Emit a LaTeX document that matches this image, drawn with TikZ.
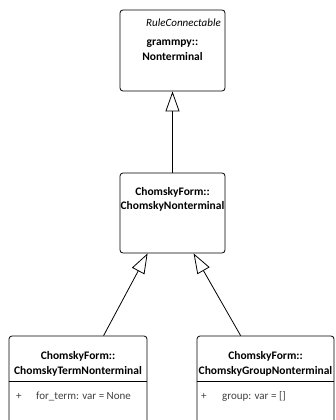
\documentclass[tikz,border=0pt]{standalone}
\usepackage{fontspec}
\setmainfont{Carlito}
\usetikzlibrary{arrows.meta,calc}
\begin{document}
\begin{tikzpicture}[x=1pt,y=-1pt,
  umlbox/.style={draw=black, fill=white, rounded corners=3pt, line width=0.8pt, inner sep=0pt},
  classname/.style={font=\fontsize{11.5}{14.5}\selectfont\bfseries, align=center, inner sep=0pt},
  stereo/.style={font=\fontsize{11}{13}\selectfont\itshape, inner sep=0pt},
  attr/.style={font=\fontsize{11}{13}\selectfont, text=black!75, inner sep=0pt, anchor=west},
  inherit/.style={draw=black, line width=0.8pt, -{Triangle[open, length=20pt, width=14pt, line width=0.8pt]}}
]
\useasboundingbox (0,0) rectangle (335,420);
\clip (0,0) rectangle (335,420);

% base class
\node[umlbox, minimum width=105pt, minimum height=81pt] (nt) at (172.5,50.5) {};
\node[stereo, anchor=east] (ntst) at (221,23) {RuleConnectable};
\node[classname] (ntname) at (172.5,50) {grammpy::\\Nonterminal};

% intermediate class
\node[umlbox, minimum width=105pt, minimum height=80pt] (cn) at (172.5,213) {};
\node[classname] (cnname) at (172.5,199.5) {ChomskyForm::\\ChomskyNonterminal};

% leaf classes
\node[umlbox, minimum width=138pt, minimum height=110pt] (tn) at (78,391) {};
\node[classname] (tnname) at (78,364) {ChomskyForm::\\ChomskyTermNonterminal};
\draw[line width=0.8pt] ($(tn.north west)+(0,46)$) -- ($(tn.north east)+(0,46)$);
\node[attr] (tnplus) at (16,396) {+};
\node[attr] (tnattr) at (36,396) {for\_term: var = None};

\node[umlbox, minimum width=137pt, minimum height=110pt] (gn) at (265.5,391) {};
\node[classname] (gnname) at (265.5,364) {ChomskyForm::\\ChomskyGroupNonterminal};
\draw[line width=0.8pt] ($(gn.north west)+(0,46)$) -- ($(gn.north east)+(0,46)$);
\node[attr] (gnplus) at (201,396) {+};
\node[attr] (gnattr) at (222,396) {group: var = []};

% generalizations
\draw[inherit] (cn.north) -- (nt.south);
\draw[inherit] ($(tn.north west)+(95,0)$) -- ($(cn.south west)+(28,0)$);
\draw[inherit] ($(gn.north west)+(44,0)$) -- ($(cn.south west)+(74,0)$);
\end{tikzpicture}
\end{document}
